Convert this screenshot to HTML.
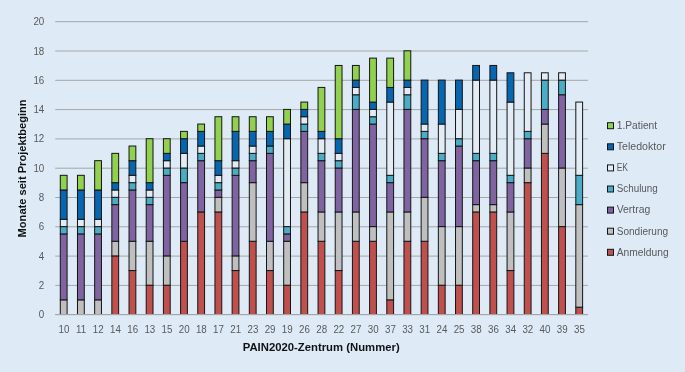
<!DOCTYPE html>
<html><head><meta charset="utf-8"><title>PAIN2020</title>
<style>
html,body{margin:0;padding:0;background:#deebf7;}
body{width:685px;height:372px;overflow:hidden;}
svg{display:block;font-family:"Liberation Sans",sans-serif;}
.t{font-size:10.3px;fill:#595959;}
.b{font-size:11.2px;font-weight:bold;fill:#111;}
.bar rect{stroke:#141414;stroke-width:1;}
</style></head><body>
<svg width="685" height="372" viewBox="0 0 685 372">
<rect x="0" y="0" width="685" height="372" fill="#deebf7"/>
<g stroke="#a6a6a6" stroke-width="1">
<line x1="55.2" y1="314.70" x2="587.9" y2="314.70"/>
<line x1="55.2" y1="285.40" x2="587.9" y2="285.40"/>
<line x1="55.2" y1="256.10" x2="587.9" y2="256.10"/>
<line x1="55.2" y1="226.80" x2="587.9" y2="226.80"/>
<line x1="55.2" y1="197.50" x2="587.9" y2="197.50"/>
<line x1="55.2" y1="168.20" x2="587.9" y2="168.20"/>
<line x1="55.2" y1="138.90" x2="587.9" y2="138.90"/>
<line x1="55.2" y1="109.60" x2="587.9" y2="109.60"/>
<line x1="55.2" y1="80.30" x2="587.9" y2="80.30"/>
<line x1="55.2" y1="51.00" x2="587.9" y2="51.00"/>
<line x1="55.2" y1="21.70" x2="587.9" y2="21.70"/>
</g>
<g class="t" text-anchor="end">
<text transform="translate(44.3,318.20) scale(0.95,1)">0</text>
<text transform="translate(44.3,288.90) scale(0.95,1)">2</text>
<text transform="translate(44.3,259.60) scale(0.95,1)">4</text>
<text transform="translate(44.3,230.30) scale(0.95,1)">6</text>
<text transform="translate(44.3,201.00) scale(0.95,1)">8</text>
<text transform="translate(44.3,171.70) scale(0.95,1)">10</text>
<text transform="translate(44.3,142.40) scale(0.95,1)">12</text>
<text transform="translate(44.3,113.10) scale(0.95,1)">14</text>
<text transform="translate(44.3,83.80) scale(0.95,1)">16</text>
<text transform="translate(44.3,54.50) scale(0.95,1)">18</text>
<text transform="translate(44.3,25.20) scale(0.95,1)">20</text>
</g>
<g class="bar">
<rect x="60.29" y="299.85" width="6.8" height="14.65" fill="#bfbfbf"/>
<rect x="60.29" y="233.93" width="6.8" height="65.92" fill="#8064a2"/>
<rect x="60.29" y="226.60" width="6.8" height="7.33" fill="#4bacc6"/>
<rect x="60.29" y="219.27" width="6.8" height="7.33" fill="#e3ebf5"/>
<rect x="60.29" y="189.97" width="6.8" height="29.30" fill="#0666af"/>
<rect x="60.29" y="175.32" width="6.8" height="14.65" fill="#92d050"/>
<rect x="77.48" y="299.85" width="6.8" height="14.65" fill="#bfbfbf"/>
<rect x="77.48" y="233.93" width="6.8" height="65.92" fill="#8064a2"/>
<rect x="77.48" y="226.60" width="6.8" height="7.33" fill="#4bacc6"/>
<rect x="77.48" y="219.27" width="6.8" height="7.33" fill="#e3ebf5"/>
<rect x="77.48" y="189.97" width="6.8" height="29.30" fill="#0666af"/>
<rect x="77.48" y="175.32" width="6.8" height="14.65" fill="#92d050"/>
<rect x="94.66" y="299.85" width="6.8" height="14.65" fill="#bfbfbf"/>
<rect x="94.66" y="233.93" width="6.8" height="65.92" fill="#8064a2"/>
<rect x="94.66" y="226.60" width="6.8" height="7.33" fill="#4bacc6"/>
<rect x="94.66" y="219.27" width="6.8" height="7.33" fill="#e3ebf5"/>
<rect x="94.66" y="189.97" width="6.8" height="29.30" fill="#0666af"/>
<rect x="94.66" y="160.67" width="6.8" height="29.30" fill="#92d050"/>
<rect x="111.84" y="255.90" width="6.8" height="58.60" fill="#c0504d"/>
<rect x="111.84" y="241.25" width="6.8" height="14.65" fill="#bfbfbf"/>
<rect x="111.84" y="204.62" width="6.8" height="36.62" fill="#8064a2"/>
<rect x="111.84" y="197.30" width="6.8" height="7.33" fill="#4bacc6"/>
<rect x="111.84" y="189.97" width="6.8" height="7.33" fill="#e3ebf5"/>
<rect x="111.84" y="182.65" width="6.8" height="7.33" fill="#0666af"/>
<rect x="111.84" y="153.35" width="6.8" height="29.30" fill="#92d050"/>
<rect x="129.03" y="270.55" width="6.8" height="43.95" fill="#c0504d"/>
<rect x="129.03" y="241.25" width="6.8" height="29.30" fill="#bfbfbf"/>
<rect x="129.03" y="189.97" width="6.8" height="51.27" fill="#8064a2"/>
<rect x="129.03" y="182.65" width="6.8" height="7.33" fill="#4bacc6"/>
<rect x="129.03" y="175.32" width="6.8" height="7.33" fill="#e3ebf5"/>
<rect x="129.03" y="160.67" width="6.8" height="14.65" fill="#0666af"/>
<rect x="129.03" y="146.03" width="6.8" height="14.65" fill="#92d050"/>
<rect x="146.21" y="285.20" width="6.8" height="29.30" fill="#c0504d"/>
<rect x="146.21" y="241.25" width="6.8" height="43.95" fill="#bfbfbf"/>
<rect x="146.21" y="204.62" width="6.8" height="36.62" fill="#8064a2"/>
<rect x="146.21" y="197.30" width="6.8" height="7.33" fill="#4bacc6"/>
<rect x="146.21" y="189.97" width="6.8" height="7.33" fill="#e3ebf5"/>
<rect x="146.21" y="182.65" width="6.8" height="7.33" fill="#0666af"/>
<rect x="146.21" y="138.70" width="6.8" height="43.95" fill="#92d050"/>
<rect x="163.40" y="285.20" width="6.8" height="29.30" fill="#c0504d"/>
<rect x="163.40" y="255.90" width="6.8" height="29.30" fill="#bfbfbf"/>
<rect x="163.40" y="175.32" width="6.8" height="80.58" fill="#8064a2"/>
<rect x="163.40" y="168.00" width="6.8" height="7.33" fill="#4bacc6"/>
<rect x="163.40" y="160.67" width="6.8" height="7.33" fill="#e3ebf5"/>
<rect x="163.40" y="153.35" width="6.8" height="7.33" fill="#0666af"/>
<rect x="163.40" y="138.70" width="6.8" height="14.65" fill="#92d050"/>
<rect x="180.58" y="241.25" width="6.8" height="73.25" fill="#c0504d"/>
<rect x="180.58" y="182.65" width="6.8" height="58.60" fill="#8064a2"/>
<rect x="180.58" y="168.00" width="6.8" height="14.65" fill="#4bacc6"/>
<rect x="180.58" y="153.35" width="6.8" height="14.65" fill="#e3ebf5"/>
<rect x="180.58" y="138.70" width="6.8" height="14.65" fill="#0666af"/>
<rect x="180.58" y="131.38" width="6.8" height="7.33" fill="#92d050"/>
<rect x="197.76" y="211.95" width="6.8" height="102.55" fill="#c0504d"/>
<rect x="197.76" y="160.67" width="6.8" height="51.27" fill="#8064a2"/>
<rect x="197.76" y="153.35" width="6.8" height="7.33" fill="#4bacc6"/>
<rect x="197.76" y="146.03" width="6.8" height="7.33" fill="#e3ebf5"/>
<rect x="197.76" y="131.38" width="6.8" height="14.65" fill="#0666af"/>
<rect x="197.76" y="124.05" width="6.8" height="7.33" fill="#92d050"/>
<rect x="214.95" y="211.95" width="6.8" height="102.55" fill="#c0504d"/>
<rect x="214.95" y="197.30" width="6.8" height="14.65" fill="#bfbfbf"/>
<rect x="214.95" y="189.97" width="6.8" height="7.33" fill="#8064a2"/>
<rect x="214.95" y="182.65" width="6.8" height="7.33" fill="#4bacc6"/>
<rect x="214.95" y="175.32" width="6.8" height="7.33" fill="#e3ebf5"/>
<rect x="214.95" y="160.67" width="6.8" height="14.65" fill="#0666af"/>
<rect x="214.95" y="116.72" width="6.8" height="43.95" fill="#92d050"/>
<rect x="232.13" y="270.55" width="6.8" height="43.95" fill="#c0504d"/>
<rect x="232.13" y="255.90" width="6.8" height="14.65" fill="#bfbfbf"/>
<rect x="232.13" y="175.32" width="6.8" height="80.58" fill="#8064a2"/>
<rect x="232.13" y="168.00" width="6.8" height="7.33" fill="#4bacc6"/>
<rect x="232.13" y="160.67" width="6.8" height="7.33" fill="#e3ebf5"/>
<rect x="232.13" y="131.38" width="6.8" height="29.30" fill="#0666af"/>
<rect x="232.13" y="116.72" width="6.8" height="14.65" fill="#92d050"/>
<rect x="249.31" y="241.25" width="6.8" height="73.25" fill="#c0504d"/>
<rect x="249.31" y="182.65" width="6.8" height="58.60" fill="#bfbfbf"/>
<rect x="249.31" y="160.67" width="6.8" height="21.98" fill="#8064a2"/>
<rect x="249.31" y="153.35" width="6.8" height="7.33" fill="#4bacc6"/>
<rect x="249.31" y="146.03" width="6.8" height="7.33" fill="#e3ebf5"/>
<rect x="249.31" y="131.38" width="6.8" height="14.65" fill="#0666af"/>
<rect x="249.31" y="116.72" width="6.8" height="14.65" fill="#92d050"/>
<rect x="266.50" y="270.55" width="6.8" height="43.95" fill="#c0504d"/>
<rect x="266.50" y="241.25" width="6.8" height="29.30" fill="#bfbfbf"/>
<rect x="266.50" y="153.35" width="6.8" height="87.90" fill="#8064a2"/>
<rect x="266.50" y="146.03" width="6.8" height="7.33" fill="#4bacc6"/>
<rect x="266.50" y="131.38" width="6.8" height="14.65" fill="#0666af"/>
<rect x="266.50" y="116.72" width="6.8" height="14.65" fill="#92d050"/>
<rect x="283.68" y="285.20" width="6.8" height="29.30" fill="#c0504d"/>
<rect x="283.68" y="241.25" width="6.8" height="43.95" fill="#bfbfbf"/>
<rect x="283.68" y="233.93" width="6.8" height="7.33" fill="#8064a2"/>
<rect x="283.68" y="226.60" width="6.8" height="7.33" fill="#4bacc6"/>
<rect x="283.68" y="138.70" width="6.8" height="87.90" fill="#e3ebf5"/>
<rect x="283.68" y="124.05" width="6.8" height="14.65" fill="#0666af"/>
<rect x="283.68" y="109.40" width="6.8" height="14.65" fill="#92d050"/>
<rect x="300.87" y="211.95" width="6.8" height="102.55" fill="#c0504d"/>
<rect x="300.87" y="182.65" width="6.8" height="29.30" fill="#bfbfbf"/>
<rect x="300.87" y="131.38" width="6.8" height="51.27" fill="#8064a2"/>
<rect x="300.87" y="124.05" width="6.8" height="7.33" fill="#4bacc6"/>
<rect x="300.87" y="116.72" width="6.8" height="7.33" fill="#e3ebf5"/>
<rect x="300.87" y="109.40" width="6.8" height="7.33" fill="#0666af"/>
<rect x="300.87" y="102.07" width="6.8" height="7.33" fill="#92d050"/>
<rect x="318.05" y="241.25" width="6.8" height="73.25" fill="#c0504d"/>
<rect x="318.05" y="211.95" width="6.8" height="29.30" fill="#bfbfbf"/>
<rect x="318.05" y="160.67" width="6.8" height="51.27" fill="#8064a2"/>
<rect x="318.05" y="153.35" width="6.8" height="7.33" fill="#4bacc6"/>
<rect x="318.05" y="138.70" width="6.8" height="14.65" fill="#e3ebf5"/>
<rect x="318.05" y="131.38" width="6.8" height="7.33" fill="#0666af"/>
<rect x="318.05" y="87.42" width="6.8" height="43.95" fill="#92d050"/>
<rect x="335.23" y="270.55" width="6.8" height="43.95" fill="#c0504d"/>
<rect x="335.23" y="211.95" width="6.8" height="58.60" fill="#bfbfbf"/>
<rect x="335.23" y="168.00" width="6.8" height="43.95" fill="#8064a2"/>
<rect x="335.23" y="160.67" width="6.8" height="7.33" fill="#4bacc6"/>
<rect x="335.23" y="153.35" width="6.8" height="7.33" fill="#e3ebf5"/>
<rect x="335.23" y="138.70" width="6.8" height="14.65" fill="#0666af"/>
<rect x="335.23" y="65.45" width="6.8" height="73.25" fill="#92d050"/>
<rect x="352.42" y="241.25" width="6.8" height="73.25" fill="#c0504d"/>
<rect x="352.42" y="211.95" width="6.8" height="29.30" fill="#bfbfbf"/>
<rect x="352.42" y="109.40" width="6.8" height="102.55" fill="#8064a2"/>
<rect x="352.42" y="94.75" width="6.8" height="14.65" fill="#4bacc6"/>
<rect x="352.42" y="87.42" width="6.8" height="7.33" fill="#e3ebf5"/>
<rect x="352.42" y="80.10" width="6.8" height="7.33" fill="#0666af"/>
<rect x="352.42" y="65.45" width="6.8" height="14.65" fill="#92d050"/>
<rect x="369.60" y="241.25" width="6.8" height="73.25" fill="#c0504d"/>
<rect x="369.60" y="226.60" width="6.8" height="14.65" fill="#bfbfbf"/>
<rect x="369.60" y="124.05" width="6.8" height="102.55" fill="#8064a2"/>
<rect x="369.60" y="116.72" width="6.8" height="7.33" fill="#4bacc6"/>
<rect x="369.60" y="109.40" width="6.8" height="7.33" fill="#e3ebf5"/>
<rect x="369.60" y="102.07" width="6.8" height="7.33" fill="#0666af"/>
<rect x="369.60" y="58.12" width="6.8" height="43.95" fill="#92d050"/>
<rect x="386.79" y="299.85" width="6.8" height="14.65" fill="#c0504d"/>
<rect x="386.79" y="211.95" width="6.8" height="87.90" fill="#bfbfbf"/>
<rect x="386.79" y="182.65" width="6.8" height="29.30" fill="#8064a2"/>
<rect x="386.79" y="175.32" width="6.8" height="7.33" fill="#4bacc6"/>
<rect x="386.79" y="102.07" width="6.8" height="73.25" fill="#e3ebf5"/>
<rect x="386.79" y="87.42" width="6.8" height="14.65" fill="#0666af"/>
<rect x="386.79" y="58.12" width="6.8" height="29.30" fill="#92d050"/>
<rect x="403.97" y="241.25" width="6.8" height="73.25" fill="#c0504d"/>
<rect x="403.97" y="211.95" width="6.8" height="29.30" fill="#bfbfbf"/>
<rect x="403.97" y="109.40" width="6.8" height="102.55" fill="#8064a2"/>
<rect x="403.97" y="94.75" width="6.8" height="14.65" fill="#4bacc6"/>
<rect x="403.97" y="87.42" width="6.8" height="7.33" fill="#e3ebf5"/>
<rect x="403.97" y="80.10" width="6.8" height="7.33" fill="#0666af"/>
<rect x="403.97" y="50.80" width="6.8" height="29.30" fill="#92d050"/>
<rect x="421.15" y="241.25" width="6.8" height="73.25" fill="#c0504d"/>
<rect x="421.15" y="197.30" width="6.8" height="43.95" fill="#bfbfbf"/>
<rect x="421.15" y="138.70" width="6.8" height="58.60" fill="#8064a2"/>
<rect x="421.15" y="131.38" width="6.8" height="7.33" fill="#4bacc6"/>
<rect x="421.15" y="124.05" width="6.8" height="7.33" fill="#e3ebf5"/>
<rect x="421.15" y="80.10" width="6.8" height="43.95" fill="#0666af"/>
<rect x="438.34" y="285.20" width="6.8" height="29.30" fill="#c0504d"/>
<rect x="438.34" y="226.60" width="6.8" height="58.60" fill="#bfbfbf"/>
<rect x="438.34" y="160.67" width="6.8" height="65.92" fill="#8064a2"/>
<rect x="438.34" y="153.35" width="6.8" height="7.33" fill="#4bacc6"/>
<rect x="438.34" y="124.05" width="6.8" height="29.30" fill="#e3ebf5"/>
<rect x="438.34" y="80.10" width="6.8" height="43.95" fill="#0666af"/>
<rect x="455.52" y="285.20" width="6.8" height="29.30" fill="#c0504d"/>
<rect x="455.52" y="226.60" width="6.8" height="58.60" fill="#bfbfbf"/>
<rect x="455.52" y="146.03" width="6.8" height="80.58" fill="#8064a2"/>
<rect x="455.52" y="138.70" width="6.8" height="7.33" fill="#4bacc6"/>
<rect x="455.52" y="109.40" width="6.8" height="29.30" fill="#e3ebf5"/>
<rect x="455.52" y="80.10" width="6.8" height="29.30" fill="#0666af"/>
<rect x="472.70" y="211.95" width="6.8" height="102.55" fill="#c0504d"/>
<rect x="472.70" y="204.62" width="6.8" height="7.33" fill="#bfbfbf"/>
<rect x="472.70" y="160.67" width="6.8" height="43.95" fill="#8064a2"/>
<rect x="472.70" y="153.35" width="6.8" height="7.33" fill="#4bacc6"/>
<rect x="472.70" y="80.10" width="6.8" height="73.25" fill="#e3ebf5"/>
<rect x="472.70" y="65.45" width="6.8" height="14.65" fill="#0666af"/>
<rect x="489.89" y="211.95" width="6.8" height="102.55" fill="#c0504d"/>
<rect x="489.89" y="204.62" width="6.8" height="7.33" fill="#bfbfbf"/>
<rect x="489.89" y="160.67" width="6.8" height="43.95" fill="#8064a2"/>
<rect x="489.89" y="153.35" width="6.8" height="7.33" fill="#4bacc6"/>
<rect x="489.89" y="80.10" width="6.8" height="73.25" fill="#e3ebf5"/>
<rect x="489.89" y="65.45" width="6.8" height="14.65" fill="#0666af"/>
<rect x="507.07" y="270.55" width="6.8" height="43.95" fill="#c0504d"/>
<rect x="507.07" y="211.95" width="6.8" height="58.60" fill="#bfbfbf"/>
<rect x="507.07" y="182.65" width="6.8" height="29.30" fill="#8064a2"/>
<rect x="507.07" y="175.32" width="6.8" height="7.33" fill="#4bacc6"/>
<rect x="507.07" y="102.07" width="6.8" height="73.25" fill="#e3ebf5"/>
<rect x="507.07" y="72.78" width="6.8" height="29.30" fill="#0666af"/>
<rect x="524.26" y="182.65" width="6.8" height="131.85" fill="#c0504d"/>
<rect x="524.26" y="168.00" width="6.8" height="14.65" fill="#bfbfbf"/>
<rect x="524.26" y="138.70" width="6.8" height="29.30" fill="#8064a2"/>
<rect x="524.26" y="131.38" width="6.8" height="7.33" fill="#4bacc6"/>
<rect x="524.26" y="72.78" width="6.8" height="58.60" fill="#e3ebf5"/>
<rect x="541.44" y="153.35" width="6.8" height="161.15" fill="#c0504d"/>
<rect x="541.44" y="124.05" width="6.8" height="29.30" fill="#bfbfbf"/>
<rect x="541.44" y="109.40" width="6.8" height="14.65" fill="#8064a2"/>
<rect x="541.44" y="80.10" width="6.8" height="29.30" fill="#4bacc6"/>
<rect x="541.44" y="72.78" width="6.8" height="7.33" fill="#e3ebf5"/>
<rect x="558.62" y="226.60" width="6.8" height="87.90" fill="#c0504d"/>
<rect x="558.62" y="168.00" width="6.8" height="58.60" fill="#bfbfbf"/>
<rect x="558.62" y="94.75" width="6.8" height="73.25" fill="#8064a2"/>
<rect x="558.62" y="80.10" width="6.8" height="14.65" fill="#4bacc6"/>
<rect x="558.62" y="72.78" width="6.8" height="7.33" fill="#e3ebf5"/>
<rect x="575.81" y="307.18" width="6.8" height="7.33" fill="#c0504d"/>
<rect x="575.81" y="204.62" width="6.8" height="102.55" fill="#bfbfbf"/>
<rect x="575.81" y="175.32" width="6.8" height="29.30" fill="#4bacc6"/>
<rect x="575.81" y="102.07" width="6.8" height="73.25" fill="#e3ebf5"/>
</g>
<line x1="55.2" y1="314.50" x2="587.9" y2="314.50" stroke="#a6a6a6" stroke-width="1"/>
<g class="t" text-anchor="middle">
<text transform="translate(63.89,332.9) scale(0.95,1)">10</text>
<text transform="translate(81.08,332.9) scale(0.95,1)">11</text>
<text transform="translate(98.26,332.9) scale(0.95,1)">12</text>
<text transform="translate(115.44,332.9) scale(0.95,1)">14</text>
<text transform="translate(132.63,332.9) scale(0.95,1)">16</text>
<text transform="translate(149.81,332.9) scale(0.95,1)">13</text>
<text transform="translate(167.00,332.9) scale(0.95,1)">15</text>
<text transform="translate(184.18,332.9) scale(0.95,1)">20</text>
<text transform="translate(201.36,332.9) scale(0.95,1)">18</text>
<text transform="translate(218.55,332.9) scale(0.95,1)">17</text>
<text transform="translate(235.73,332.9) scale(0.95,1)">21</text>
<text transform="translate(252.91,332.9) scale(0.95,1)">23</text>
<text transform="translate(270.10,332.9) scale(0.95,1)">29</text>
<text transform="translate(287.28,332.9) scale(0.95,1)">19</text>
<text transform="translate(304.47,332.9) scale(0.95,1)">26</text>
<text transform="translate(321.65,332.9) scale(0.95,1)">28</text>
<text transform="translate(338.83,332.9) scale(0.95,1)">22</text>
<text transform="translate(356.02,332.9) scale(0.95,1)">27</text>
<text transform="translate(373.20,332.9) scale(0.95,1)">30</text>
<text transform="translate(390.39,332.9) scale(0.95,1)">37</text>
<text transform="translate(407.57,332.9) scale(0.95,1)">33</text>
<text transform="translate(424.75,332.9) scale(0.95,1)">31</text>
<text transform="translate(441.94,332.9) scale(0.95,1)">24</text>
<text transform="translate(459.12,332.9) scale(0.95,1)">25</text>
<text transform="translate(476.30,332.9) scale(0.95,1)">38</text>
<text transform="translate(493.49,332.9) scale(0.95,1)">36</text>
<text transform="translate(510.67,332.9) scale(0.95,1)">34</text>
<text transform="translate(527.86,332.9) scale(0.95,1)">32</text>
<text transform="translate(545.04,332.9) scale(0.95,1)">40</text>
<text transform="translate(562.22,332.9) scale(0.95,1)">39</text>
<text transform="translate(579.41,332.9) scale(0.95,1)">35</text>
</g>
<g class="bar">
<rect x="607.5" y="122.70" width="6" height="6" fill="#92d050"/>
<rect x="607.5" y="143.80" width="6" height="6" fill="#0666af"/>
<rect x="607.5" y="164.90" width="6" height="6" fill="#e3ebf5"/>
<rect x="607.5" y="186.00" width="6" height="6" fill="#4bacc6"/>
<rect x="607.5" y="207.10" width="6" height="6" fill="#8064a2"/>
<rect x="607.5" y="228.20" width="6" height="6" fill="#bfbfbf"/>
<rect x="607.5" y="249.30" width="6" height="6" fill="#c0504d"/>
</g>
<g class="t">
<text font-size="10" x="616.7" y="129.00" textLength="40.5" lengthAdjust="spacingAndGlyphs">1.Patient</text>
<text font-size="10" x="616.7" y="150.10" textLength="49" lengthAdjust="spacingAndGlyphs">Teledoktor</text>
<text font-size="10" x="616.7" y="171.20" textLength="11.3" lengthAdjust="spacingAndGlyphs">EK</text>
<text font-size="10" x="616.7" y="192.30" textLength="41.1" lengthAdjust="spacingAndGlyphs">Schulung</text>
<text font-size="10" x="616.7" y="213.40" textLength="33.6" lengthAdjust="spacingAndGlyphs">Vertrag</text>
<text font-size="10" x="616.7" y="234.50" textLength="51.4" lengthAdjust="spacingAndGlyphs">Sondierung</text>
<text font-size="10" x="616.7" y="255.60" textLength="52" lengthAdjust="spacingAndGlyphs">Anmeldung</text>
</g>
<text class="b" x="242.7" y="351.1" textLength="157" lengthAdjust="spacingAndGlyphs">PAIN2020-Zentrum (Nummer)</text>
<text class="b" transform="translate(26.3,237.4) rotate(-90)" textLength="138" lengthAdjust="spacingAndGlyphs">Monate seit Projektbeginn</text>
</svg></body></html>
